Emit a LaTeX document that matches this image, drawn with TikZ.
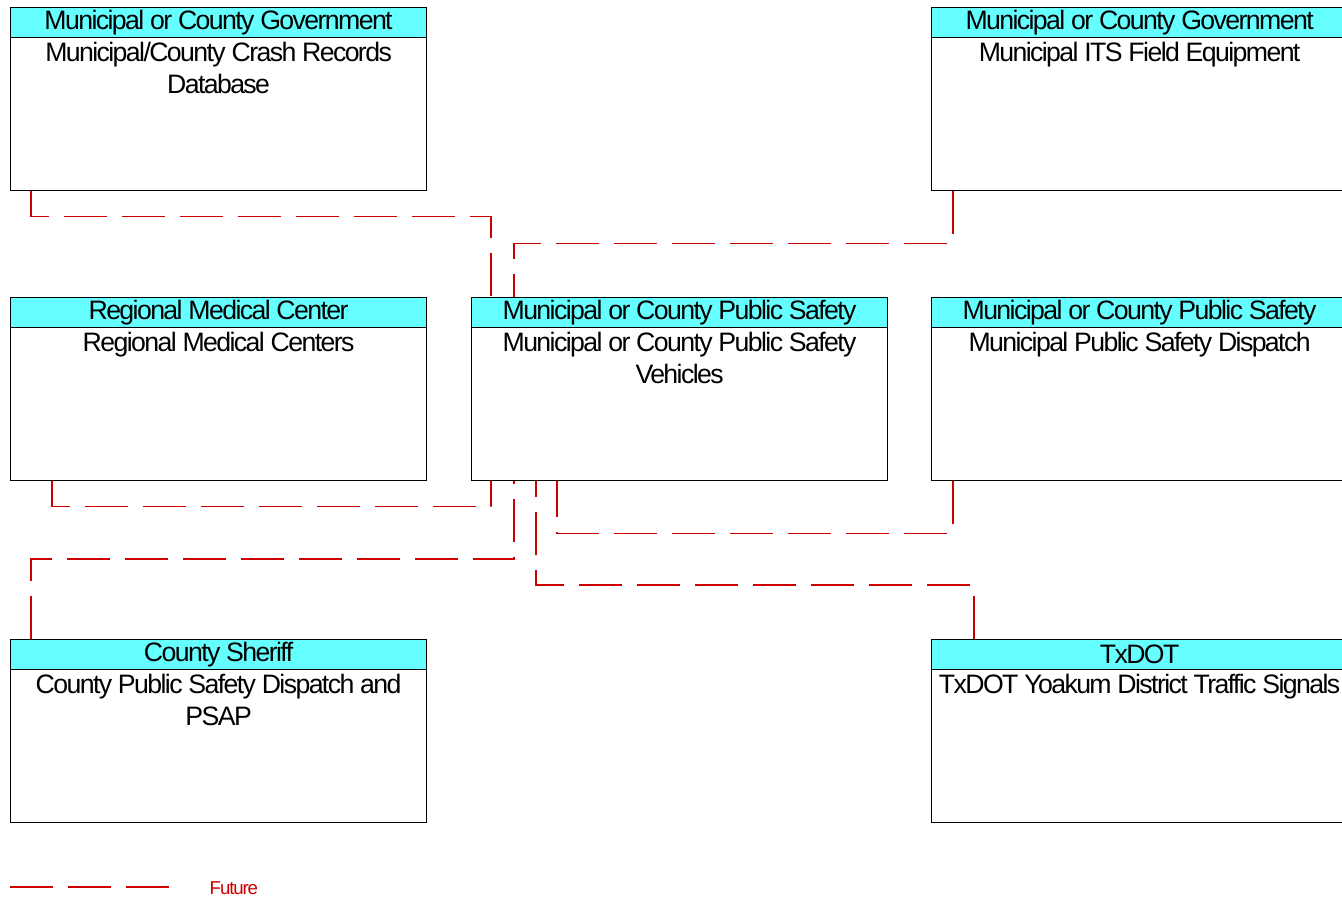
\documentclass[tikz,border=0pt]{standalone}
\usepackage{fontspec}
\setmainfont{Liberation Sans}[LetterSpace=-6]
\usepackage{tikz}
\usetikzlibrary{positioning, calc}
\definecolor{cHead}{RGB}{102,255,255}
\definecolor{cFuture}{RGB}{204,0,0}
\tikzset{
	sysbox/.style ={rectangle, draw=black, line width=0.9pt, minimum width=312pt, minimum height=137.25pt, anchor=north west, inner sep=0pt},
	sysname/.style={rectangle, draw=black, line width=0.9pt, fill=cHead, minimum width=312pt, minimum height=22.5pt, inner sep=0pt, anchor=north},
	systext/.style={align=center, inner sep=0pt},
	future/.style ={draw=cFuture, line width=0.9pt, dash pattern=on 32.25pt off 11.25pt},
}

\begin{document}
\begin{tikzpicture}[x=0.75pt, y=-0.75pt, font=\fontsize{20}{24}\selectfont]
	\useasboundingbox (0,0) rectangle (1342,898);
	% top row
	\node[sysbox] (crashdb) at (10,7) {};
	\node[sysname] (crashdb-h) at (crashdb.north) {Municipal or County Government};
	\node[systext, below=3pt of crashdb-h] {Municipal/County Crash Records\\Database};
	\node[sysbox] (itsfield) at (931,7) {};
	\node[sysname] (itsfield-h) at (itsfield.north) {Municipal or County Government};
	\node[systext, below=3pt of itsfield-h] {Municipal ITS Field Equipment};
	% middle row
	\node[sysbox] (medctr) at (10,297) {};
	\node[sysname] (medctr-h) at (medctr.north) {Regional Medical Center};
	\node[systext, below=3pt of medctr-h] {Regional Medical Centers};
	\node[sysbox] (psveh) at (471,297) {};
	\node[sysname] (psveh-h) at (psveh.north) {Municipal or County Public Safety};
	\node[systext, below=3pt of psveh-h] {Municipal or County Public Safety\\Vehicles};
	\node[sysbox] (psdisp) at (931,297) {};
	\node[sysname] (psdisp-h) at (psdisp.north) {Municipal or County Public Safety};
	\node[systext, below=3pt of psdisp-h] {Municipal Public Safety Dispatch};
	% bottom row
	\node[sysbox] (cntydisp) at (10,639) {};
	\node[sysname] (cntydisp-h) at (cntydisp.north) {County Sheriff};
	\node[systext, below=3pt of cntydisp-h] {County Public Safety Dispatch and\\PSAP};
	\node[sysbox] (txsig) at (931,639) {};
	\node[sysname] (txsig-h) at (txsig.north) {TxDOT};
	\node[systext, below=3pt of txsig-h] {TxDOT Yoakum District Traffic Signals};
	% flows
	\draw[future] ($(crashdb.south west)+(21,0)$) -- ++(0,25) -| ($(psveh.north west)+(20,0)$);
	\draw[future] ($(itsfield.south west)+(22,0)$) -- ++(0,52) -| ($(psveh.north west)+(43,0)$);
	\draw[future] ($(medctr.south west)+(42,0)$) -- ++(0,25) -| ($(psveh.south west)+(20,0)$);
	\draw[future] ($(cntydisp.north west)+(21,0)$) -- ++(0,-80) -| ($(psveh.south west)+(43,0)$);
	\draw[future] ($(psdisp.south west)+(22,0)$) -- ++(0,52) -| ($(psveh.south west)+(86,0)$);
	\draw[future] ($(txsig.north west)+(43,0)$) -- ++(0,-54) -| ($(psveh.south west)+(65,0)$);
	% legend
	\coordinate (legA) at (10,887);
	\coordinate (legB) at (178,887);
	\draw[future] (legA) -- (legB);
	\node[anchor=west, text=cFuture, font=\fontsize{14}{16}\selectfont] (legfut) at (205,888) {Future};
\end{tikzpicture}
\end{document}
